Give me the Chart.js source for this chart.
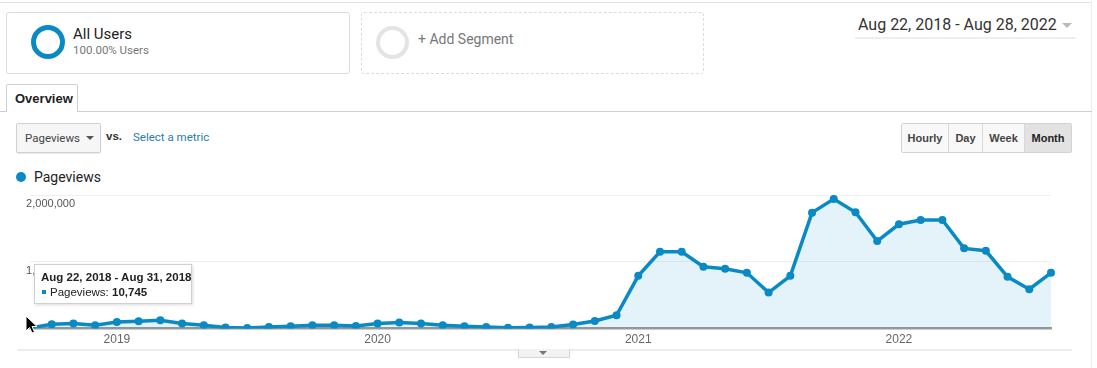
<!DOCTYPE html>
<html lang="en">
<head>
    <meta charset="UTF-8">
    <title>Pageviews overview</title>
    <script src="https://cdn.jsdelivr.net/npm/chart.js"></script>
    <style>
        body { margin: 0; width: 1097px; height: 368px; position: relative; overflow: hidden; background: #fff; font-family: Roboto, Arial, sans-serif; color: #222; }
        .abs { position: absolute; white-space: nowrap; }
        .topline { left: 0; top: 2px; width: 1092px; border-top: 1px solid #e2e2e2; }
        .rightline { left: 1091px; top: 0; height: 368px; border-left: 1px solid #ececec; }
        .card { top: 12px; height: 60px; border: 1px solid #dcdcdc; border-radius: 3px; }
        .ring { border-radius: 50%; box-sizing: border-box; }
        .tabline { left: 0; top: 111px; width: 1092px; border-top: 1px solid #cfcfcf; }
        .tab { left: 6px; top: 84px; width: 70px; height: 27px; border: 1px solid #cfcfcf; border-bottom: none; border-radius: 2px 2px 0 0; background: #fff; font: bold 13px Arial, sans-serif; color: #222; line-height: 28px; text-indent: 8px; }
        .dd { left: 16px; top: 123px; width: 83px; height: 28px; border: 1px solid #d0d0d0; border-radius: 2px; background: #f6f6f6; box-shadow: 0 1px 1px rgba(0,0,0,0.08); font-size: 11.5px; color: #444; line-height: 29px; text-indent: 8px; }
        .btns { left: 901px; top: 123px; height: 28px; border: 1px solid #d3d3d3; border-radius: 2px; display: flex; font: bold 11px Arial, sans-serif; color: #444; }
        .btns div { line-height: 28px; text-align: center; border-right: 1px solid #d8d8d8; background: #f8f8f8; }
        .btns div:last-child { border-right: none; background: #e2e2e2; color: #222; }
        #chartBox { left: 0; top: 185px; width: 1097px; height: 170px; }
        .tip { left: 34px; top: 264px; width: 156px; height: 38px; border: 1px solid #cfcfcf; background: #fff; box-shadow: 1px 1px 3px rgba(0,0,0,0.15); font: 11.5px Arial, sans-serif; color: #222; }
    </style>
</head>
<body>

<div class="abs topline"></div>
<div class="abs rightline"></div>

<div class="abs card" style="left:6px; width:342px;"></div>
<div class="abs ring" style="left:31px; top:25px; width:34px; height:34px; border:5px solid #0a8ac4;"></div>
<div class="abs" style="left:73px; top:25px; font-size:15px; color:#222;">All Users</div>
<div class="abs" style="left:73px; top:43px; font-size:11.5px; color:#777;">100.00% Users</div>

<div class="abs card" style="left:361px; width:341px; border-style:dashed;"></div>
<div class="abs ring" style="left:376px; top:26px; width:33px; height:33px; border:4px solid #e4e4e4;"></div>
<div class="abs" style="left:418px; top:31px; font-size:14px; color:#777;">+ Add Segment</div>

<div class="abs" style="left:855px; top:14px; width:220px; height:23px; border-bottom:2px solid #eeeeee;"></div>
<div class="abs" style="left:858px; top:15px; font-size:16px; color:#333;">Aug 22, 2018 - Aug 28, 2022</div>
<div class="abs" style="left:1062px; top:23px; width:0; height:0; border-left:5px solid transparent; border-right:5px solid transparent; border-top:5px solid #bbb;"></div>

<div class="abs tabline"></div>
<div class="abs tab">Overview</div>

<div class="abs dd">Pageviews</div>
<div class="abs" style="left:86px; top:136px; width:0; height:0; border-left:4px solid transparent; border-right:4px solid transparent; border-top:4px solid #555;"></div>
<div class="abs" style="left:106px; top:130px; font:bold 11.5px Arial, sans-serif; color:#333;">vs.</div>
<div class="abs" style="left:133px; top:130px; font-size:11.5px; color:#2a7ab8;">Select a metric</div>

<div class="abs btns">
    <div style="width:46px;">Hourly</div>
    <div style="width:33px;">Day</div>
    <div style="width:41px;">Week</div>
    <div style="width:46px;">Month</div>
</div>

<div class="abs ring" style="left:16px; top:172px; width:10px; height:10px; background:#0a8ac4;"></div>
<div class="abs" id="legendText" style="left:34px; top:169px; font-size:14px; color:#222;"></div>

<div class="abs" id="chartBox"><canvas id="pvChart" width="1097" height="170"></canvas></div>

<div class="abs" style="left:18px; top:349px; width:1054px; border-top:2px solid #ececec;"></div>
<div class="abs" style="left:518px; top:349px; width:50px; height:8px; border:1px solid #d6d6d6; border-top:none; background:#f2f2f2;"></div>
<div class="abs" style="left:539px; top:351px; width:0; height:0; border-left:4px solid transparent; border-right:4px solid transparent; border-top:4px solid #777;"></div>

<div class="abs tip">
    <div class="abs" id="tipTitle" style="left:6px; top:6px; font-weight:bold;"></div>
    <div class="abs" style="left:7px; top:25px; width:4px; height:4px; background:#0a8ac4;"></div>
    <div class="abs" id="tipBody" style="left:15px; top:21px;"></div>
</div>

<svg class="abs" style="left:25px; top:315px;" width="14" height="20" viewBox="0 0 14 20">
    <path d="M1 1 L1 16 L4.5 12.5 L7 18 L9.5 17 L7 11.5 L12 11.5 Z" fill="#000" stroke="#fff" stroke-width="1"/>
</svg>

<script>
    const seriesName = 'Pageviews';
    // monthly buckets, first one is the partial month Aug 22-31 2018
    const months = [
        'Aug 2018', 'Sep 2018', 'Oct 2018', 'Nov 2018', 'Dec 2018', 'Jan 2019', 'Feb 2019', 'Mar 2019',
        'Apr 2019', 'May 2019', 'Jun 2019', 'Jul 2019', 'Aug 2019', 'Sep 2019', 'Oct 2019', 'Nov 2019',
        'Dec 2019', 'Jan 2020', 'Feb 2020', 'Mar 2020', 'Apr 2020', 'May 2020', 'Jun 2020', 'Jul 2020',
        'Aug 2020', 'Sep 2020', 'Oct 2020', 'Nov 2020', 'Dec 2020', 'Jan 2021', 'Feb 2021', 'Mar 2021',
        'Apr 2021', 'May 2021', 'Jun 2021', 'Jul 2021', 'Aug 2021', 'Sep 2021', 'Oct 2021', 'Nov 2021',
        'Dec 2021', 'Jan 2022', 'Feb 2022', 'Mar 2022', 'Apr 2022', 'May 2022', 'Jun 2022', 'Jul 2022'
    ];
    const pageviews = [
        10745, 64000, 75000, 50000, 99000, 110000, 125000, 75000,
        50000, 15000, 9000, 24000, 34000, 49000, 49000, 39000,
        75000, 90000, 75000, 49000, 34000, 24000, 12000, 15000,
        24000, 60000, 114000, 200000, 790000, 1150000, 1150000, 925000,
        895000, 835000, 540000, 790000, 1736000, 1941000, 1742000, 1311000,
        1562000, 1626000, 1626000, 1201000, 1165000, 775000, 590000, 835000
    ];
    // year labels sit under these points on the GA axis
    const yearTickIndex = [4, 16, 28, 40];
    const yearTickText = ['2019', '2020', '2021', '2022'];
    const yTicks = [0, 1000000, 2000000];

    const fmt = n => n.toLocaleString('en-US');

    document.getElementById('legendText').innerText = seriesName;
    document.getElementById('tipTitle').innerText = 'Aug 22, 2018 - Aug 31, 2018';
    document.getElementById('tipBody').innerHTML = seriesName + ': <b>' + fmt(pageviews[0]) + '</b>';

    const ctx = document.getElementById('pvChart').getContext('2d');
    const pvChart = new Chart(ctx, {
        type: 'line',
        data: {
            labels: months,
            datasets: [{
                label: seriesName,
                data: pageviews,
                borderColor: '#0a8ac4',
                backgroundColor: 'rgba(10, 138, 196, 0.11)',
                borderWidth: 3.5,
                pointRadius: 4,
                pointBackgroundColor: '#0a8ac4',
                pointBorderWidth: 0,
                fill: 'origin',
                tension: 0
            }]
        },
        options: {
            responsive: false,
            animation: false,
            events: [],
            layout: { padding: { left: 30, right: 46, top: 10, bottom: 4 } },
            plugins: { legend: { display: false }, tooltip: { enabled: false } },
            scales: {
                x: {
                    offset: false,
                    grid: { display: false, drawTicks: false },
                    border: { display: true, color: '#999999', width: 2.5 },
                    ticks: {
                        autoSkip: false,
                        maxRotation: 0,
                        padding: 4,
                        color: '#666',
                        font: { family: 'Arial', size: 12 },
                        callback: (v, i) => {
                            const k = yearTickIndex.indexOf(i);
                            return k >= 0 ? yearTickText[k] : '';
                        }
                    }
                },
                y: {
                    min: yTicks[0],
                    max: yTicks[yTicks.length - 1],
                    afterBuildTicks: s => { s.ticks = yTicks.map(v => ({ value: v })); },
                    grid: {
                        drawTicks: false,
                        color: c => c.tick && c.tick.value === 0 ? 'rgba(0,0,0,0)' : '#efefef'
                    },
                    border: { display: false },
                    ticks: {
                        mirror: true,
                        padding: -1.3,
                        labelOffset: 9,
                        color: '#555',
                        font: { family: 'Arial', size: 11 },
                        callback: v => v === 0 ? '' : fmt(v)
                    }
                }
            }
        }
    });
</script>

</body>
</html>
